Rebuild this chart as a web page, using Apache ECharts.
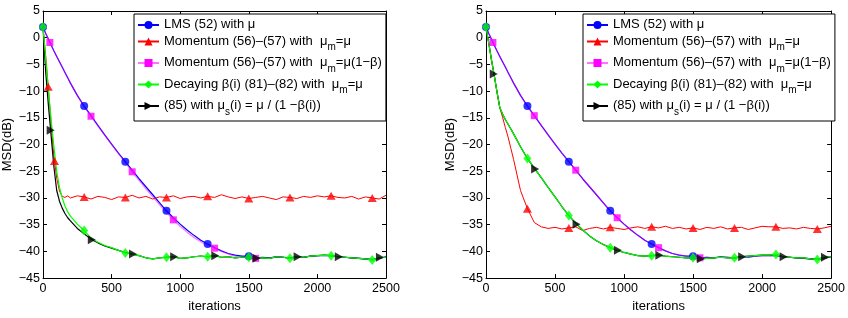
<!DOCTYPE html>
<html>
<head>
<meta charset="utf-8">
<script src="https://cdn.jsdelivr.net/npm/echarts/dist/echarts.min.js"></script>
<style>
  html, body { margin: 0; background: #fff; }
  #chart { width: 848px; height: 318px; }
</style>
</head>
<body>
<div id="chart"></div>
<script>
// iteration grid shared by every curve
const iters = [0, 20, 40, 60, 80, 100, 120, 140, 160, 180, 200,
  250, 300, 350, 400, 450, 500, 550, 600, 650, 700,
  750, 800, 850, 900, 950, 1000, 1050, 1100, 1150, 1200,
  1250, 1300, 1350, 1400, 1450, 1500, 1550, 1600, 1650, 1700,
  1750, 1800, 1850, 1900, 1950, 2000, 2050, 2100, 2150, 2200,
  2250, 2300, 2350, 2400, 2450, 2500]

// LMS (52), same in both panels
const lms = [2.0, 0.8, -0.3, -1.4, -2.5, -3.5, -4.5, -5.5, -6.5, -7.5, -8.5,
  -10.8, -12.8, -14.6, -16.4, -18.2, -19.9, -21.6, -23.2, -24.8, -26.4,
  -27.9, -29.4, -30.9, -32.4, -33.7, -34.9, -36.0, -37.0, -37.9, -38.6,
  -39.3, -39.9, -40.4, -40.7, -40.9, -40.9, -41.2, -41.1, -41.2, -41.0,
  -41.1, -41.2, -41.0, -41.1, -40.9, -40.8, -40.8, -40.8, -41.0, -41.1,
  -41.2, -41.3, -41.4, -41.5, -41.3, -41.0]

// momentum mu_m = mu(1-beta), left panel (right panel coincides with LMS)
const momBL = [2.0, 0.8, -0.3, -1.4, -2.5, -3.5, -4.5, -5.5, -6.5, -7.5, -8.5,
  -10.8, -12.9, -14.7, -16.5, -18.3, -20.0, -21.7, -23.4, -25.1, -26.7,
  -28.3, -29.8, -31.3, -32.7, -34.1, -35.3, -36.4, -37.4, -38.2, -38.9,
  -39.4, -40.0, -40.5, -40.9, -41.1, -41.2, -41.3, -41.2, -41.3, -41.1,
  -41.1, -41.3, -41.0, -41.1, -40.9, -40.8, -40.7, -40.8, -41.0, -41.1,
  -41.2, -41.3, -41.4, -41.6, -41.2, -41.1]
const momBR = lms

// momentum mu_m = mu
const momAL = [2.0, -3.5, -9.8, -16.3, -22.3, -26.3, -28.7, -29.7, -29.9, -29.6, -30.0,
  -29.6, -29.8, -30.2, -29.7, -29.9, -30.3, -29.8, -29.9, -29.5, -30.0,
  -29.7, -30.2, -29.8, -29.9, -29.6, -30.1, -29.8, -29.7, -30.0, -29.7,
  -29.9, -29.4, -29.8, -30.1, -29.8, -30.1, -29.9, -29.7, -30.0, -30.3,
  -29.8, -29.9, -30.1, -29.7, -29.9, -29.6, -29.8, -29.6, -29.9, -30.0,
  -29.7, -30.2, -29.8, -30.0, -30.2, -29.5]
const momAR = [2.0, -1.0, -4.2, -7.1, -10.2, -13.1, -14.9, -16.8, -18.6, -20.7, -22.8,
  -28.6, -32.0, -34.6, -35.4, -35.7, -35.5, -35.8, -35.6, -35.4, -36.1,
  -35.7, -35.5, -35.8, -35.5, -35.7, -35.9, -35.6, -35.4, -35.7, -35.4,
  -35.6, -35.3, -35.7, -35.5, -35.8, -35.6, -35.9, -35.5, -35.7, -35.4,
  -35.8, -35.6, -35.5, -35.9, -35.6, -35.3, -35.4, -35.4, -35.7, -35.6,
  -35.8, -35.5, -35.7, -35.8, -35.6, -35.3]

// decaying beta(i)
const decayL = [2.0, -4.0, -10.0, -15.5, -20.5, -25.0, -28.0, -30.0, -31.5, -32.6, -33.4,
  -34.9, -36.1, -37.5, -38.3, -38.9, -39.3, -39.8, -40.3, -40.5, -40.8,
  -41.2, -41.4, -41.2, -41.1, -41.0, -41.3, -41.2, -41.0, -40.9, -41.0,
  -40.8, -41.1, -41.0, -41.2, -41.1, -41.1, -41.3, -41.2, -41.3, -41.0,
  -41.1, -41.3, -41.0, -41.1, -40.9, -40.8, -40.7, -40.8, -41.0, -41.1,
  -41.2, -41.3, -41.4, -41.6, -41.2, -41.1]
const decayR = [2.0, -1.0, -4.2, -7.1, -10.2, -13.1, -14.3, -15.3, -16.2, -17.1, -18.0,
  -20.4, -22.6, -24.4, -26.2, -28.0, -29.8, -31.6, -33.3, -34.7, -36.0,
  -37.1, -38.0, -38.7, -39.3, -39.8, -40.2, -40.5, -40.8, -40.9, -40.8,
  -40.7, -40.9, -41.0, -41.1, -41.2, -41.2, -41.4, -41.3, -41.2, -41.1,
  -41.2, -41.2, -41.0, -40.9, -40.8, -40.7, -40.7, -40.6, -41.0, -41.1,
  -41.2, -41.2, -41.4, -41.5, -41.1, -41.0]

// (85) with mu_s(i)
const eq85L = [2.0, -6.5, -12.8, -18.6, -24.3, -28.6, -30.6, -31.9, -32.9, -33.7, -34.3,
  -35.7, -36.7, -37.7, -38.4, -39.0, -39.4, -39.8, -40.2, -40.5, -40.8,
  -41.2, -41.4, -41.2, -41.1, -41.0, -41.3, -41.2, -41.0, -40.9, -41.0,
  -40.8, -41.1, -41.0, -41.2, -41.1, -41.1, -41.3, -41.2, -41.3, -41.0,
  -41.1, -41.3, -41.0, -41.1, -40.9, -40.8, -40.7, -40.8, -41.0, -41.1,
  -41.2, -41.3, -41.4, -41.6, -41.2, -41.1]
const eq85R = decayR

// marker positions [iteration, dB]
const lmsMarks = [[0, 2], [300, -12.8], [600, -23.2], [900, -32.4], [1200, -38.6], [1500, -40.9]]
const momBMarksL = [[50, -0.9], [350, -14.7], [650, -25.1], [950, -34.1], [1250, -39.4], [1550, -41.3]]
const momBMarksR = [[50, -0.9], [350, -14.6], [650, -24.8], [950, -33.7], [1250, -39.3], [1550, -41.2]]
const momAMarksL = [[38, -9.2], [84, -23.1], [300, -29.8], [600, -29.9], [900, -29.9], [1200, -29.7],
  [1500, -30.1], [1800, -29.9], [2100, -29.6], [2400, -30.0]]
const momAMarksR = [[300, -32.0], [600, -35.6], [900, -35.5], [1200, -35.4], [1500, -35.6],
  [1800, -35.6], [2100, -35.4], [2400, -35.8]]
const decayMarksL = [[0, 2], [300, -36.1], [600, -40.3], [900, -41.1], [1200, -41.0], [1500, -41.1],
  [1800, -41.3], [2100, -40.8], [2400, -41.6]]
const decayMarksR = [[0, 2], [300, -22.6], [600, -33.3], [900, -39.3], [1200, -40.8], [1500, -41.2],
  [1800, -41.2], [2100, -40.6], [2400, -41.5]]
const eq85MarksL = [[56, -17.3], [356, -37.8], [656, -40.5], [956, -41.0], [1256, -40.8], [1556, -41.3],
  [1856, -41.0], [2156, -41.0], [2456, -41.1]]
const eq85MarksR = [[56, -6.8], [356, -24.6], [656, -34.9], [956, -39.8], [1256, -40.7], [1556, -41.4],
  [1856, -41.0], [2156, -41.0], [2456, -41.1]]

const names = [
  'LMS (52) with μ',
  'Momentum (56)–(57) with  μm=μ',
  'Momentum (56)–(57) with  μm=μ(1−β)',
  'Decaying β(i) (81)–(82) with  μm=μ',
  '(85) with μs(i) = μ / (1 −β(i))'
]
// legend labels with subscripts
const legendText = {}
legendText[names[0]] = '{n|LMS (52) with μ}'
legendText[names[1]] = '{n|Momentum (56)–(57) with  μ}{s|m}{n|=μ}'
legendText[names[2]] = '{n|Momentum (56)–(57) with  μ}{s|m}{n|=μ(1−β)}'
legendText[names[3]] = '{n|Decaying β(i) (81)–(82) with  μ}{s|m}{n|=μ}'
legendText[names[4]] = '{n|(85) with μ}{s|s}{n|(i) = μ / (1 −β(i))}'

const font = 'Liberation Sans, Arial, sans-serif'
const colors = ['#0000ff', '#ff0000', '#ff00ff', '#00ff00', '#000000']

const toPairs = (ys) => ys.map((y, i) => [iters[i], y])

const lineSeries = (k, ys, gi, z) => ({
  name: names[k],
  type: 'line',
  xAxisIndex: gi,
  yAxisIndex: gi,
  data: toPairs(ys),
  showSymbol: false,
  symbol: ['circle', 'triangle', 'rect', 'diamond', 'triangle'][k],
  symbolRotate: k === 4 ? -90 : 0,
  // magenta is drawn half transparent so that it mixes with blue where they overlap
  lineStyle: { color: colors[k], width: k === 1 ? 1 : 1.2, opacity: k === 2 ? 0.55 : 1 },
  itemStyle: { color: colors[k] },
  z: z,
  silent: true
})

const markSeries = (k, pts, gi, z) => ({
  type: 'scatter',
  xAxisIndex: gi,
  yAxisIndex: gi,
  data: pts,
  symbol: ['circle', 'triangle', 'rect', 'diamond', 'triangle'][k],
  symbolSize: [8, [9, 8], 7, [8, 10], [9, 8]][k],
  symbolRotate: k === 4 ? -90 : 0,
  itemStyle: { color: colors[k] },
  z: z,
  silent: true
})

const panelSeries = (gi, d) => [
  lineSeries(0, d.lms, gi, 2),
  lineSeries(1, d.momA, gi, 2),
  lineSeries(2, d.momB, gi, 2),
  lineSeries(4, d.eq85, gi, 2),
  lineSeries(3, d.decay, gi, 3),
  markSeries(0, lmsMarks, gi, 5),
  markSeries(1, d.momAMarks, gi, 5),
  markSeries(2, d.momBMarks, gi, 5),
  markSeries(3, d.decayMarks, gi, 5),
  markSeries(4, d.eq85Marks, gi, 6)
]

const tickStyle = { show: true, inside: true, length: 4, lineStyle: { color: '#000' } }
const lineAxis = { show: true, onZero: false, lineStyle: { color: '#000', width: 1 } }

const xAxes = []
const yAxes = []
// bottom / left axes carry labels; top / right axes only close the box
for (let gi = 0; gi < 2; gi++) {
  xAxes[gi] = {
    gridIndex: gi, type: 'value', min: 0, max: 2500, interval: 500,
    axisLine: lineAxis, axisTick: tickStyle, splitLine: { show: false },
    axisLabel: { color: '#000', fontSize: 12.5, fontFamily: font, margin: 4, formatter: (v) => String(v) },
    name: 'iterations', nameLocation: 'middle', nameGap: 16,
    nameTextStyle: { color: '#000', fontSize: 13, fontFamily: font }
  }
  xAxes[gi + 2] = {
    gridIndex: gi, type: 'value', position: 'top', min: 0, max: 2500, interval: 500,
    axisLine: lineAxis, axisTick: tickStyle, splitLine: { show: false },
    axisLabel: { show: false }
  }
  yAxes[gi] = {
    gridIndex: gi, type: 'value', min: -45, max: 5, interval: 5,
    axisLine: lineAxis, axisTick: tickStyle, splitLine: { show: false },
    axisLabel: {
      color: '#000', fontSize: 12.5, fontFamily: font, margin: 3,
      formatter: (v) => String(v).replace('-', '−')
    },
    name: 'MSD(dB)', nameLocation: 'middle', nameGap: 29,
    nameTextStyle: { color: '#000', fontSize: 13, fontFamily: font }
  }
  yAxes[gi + 2] = {
    gridIndex: gi, type: 'value', position: 'right', min: -45, max: 5, interval: 5,
    axisLine: lineAxis, axisTick: tickStyle, splitLine: { show: false },
    axisLabel: { show: false }
  }
}

const legends = [134, 583].map((left) => ({
  data: names,
  orient: 'vertical',
  left: left,
  top: 14,
  itemWidth: 21,
  itemHeight: 10,
  itemGap: 3.5,
  padding: [4, 4, 4, 3],
  borderColor: '#000',
  borderWidth: 1,
  backgroundColor: '#fff',
  selectedMode: false,
  z: 10,
  formatter: (n) => legendText[n],
  textStyle: {
    color: '#000',
    fontFamily: font,
    rich: {
      n: { fontSize: 13, lineHeight: 14, verticalAlign: 'top', fontFamily: font, color: '#000' },
      s: { fontSize: 10, lineHeight: 10, verticalAlign: 'top', padding: [8, 0, 0, 0], fontFamily: font, color: '#000' }
    }
  }
}))

const chart = echarts.init(document.getElementById('chart'))
chart.setOption({
  animation: false,
  backgroundColor: '#fff',
  grid: [
    { left: 38, top: 11, width: 348, height: 274 },
    { left: 486, top: 11, width: 347, height: 274 }
  ],
  xAxis: xAxes,
  yAxis: yAxes,
  legend: legends,
  series: [
    ...panelSeries(0, {
      lms: lms, momA: momAL, momB: momBL, decay: decayL, eq85: eq85L,
      momAMarks: momAMarksL, momBMarks: momBMarksL, decayMarks: decayMarksL, eq85Marks: eq85MarksL
    }),
    ...panelSeries(1, {
      lms: lms, momA: momAR, momB: momBR, decay: decayR, eq85: eq85R,
      momAMarks: momAMarksR, momBMarks: momBMarksR, decayMarks: decayMarksR, eq85Marks: eq85MarksR
    })
  ]
})
</script>
</body>
</html>
